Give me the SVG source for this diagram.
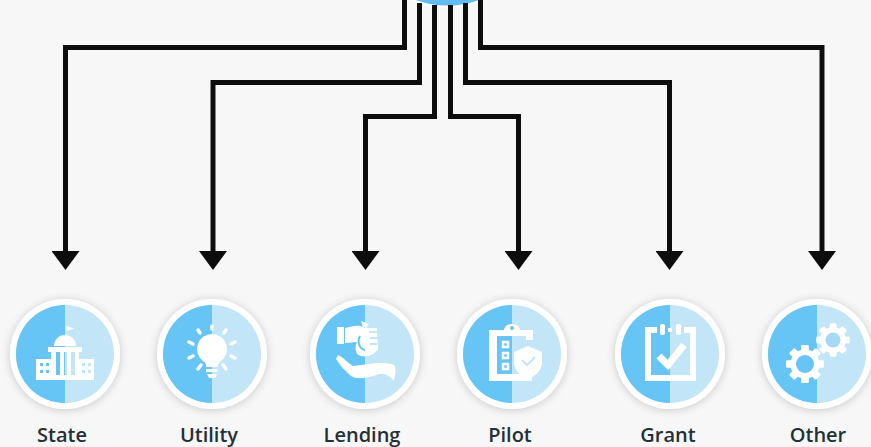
<svg xmlns="http://www.w3.org/2000/svg" width="871" height="447" viewBox="0 0 871 447">
<style>
.lbl{font-family:"Open Sans","Liberation Sans",sans-serif;font-size:20px;font-weight:600;fill:#243038;text-anchor:middle}
.wire{fill:none;stroke:#111;stroke-width:5}
.ring{fill:#fff;filter:url(#sh)}
.dark{fill:#66c5f4}
.light{fill:#c3e5f8}
.ic{fill:#fff}
.icl{fill:none;stroke:#fff;stroke-linecap:round}
</style>
<defs>
<filter id="sh" x="-30%" y="-30%" width="160%" height="160%"><feDropShadow dx="0" dy="1" stdDeviation="4" flood-color="#000" flood-opacity=".2"/></filter>
<filter id="soft" x="-5%" y="-5%" width="110%" height="110%"><feGaussianBlur stdDeviation=".45"/></filter>
<filter id="softall" filterUnits="userSpaceOnUse" x="0" y="0" width="871" height="447"><feGaussianBlur stdDeviation=".45"/></filter>
<marker id="arr" markerUnits="userSpaceOnUse" markerWidth="20" markerHeight="28" refX="0" refY="14" orient="auto" viewBox="0 0 20 28"><path d="M0 0L19 14 0 28Z" fill="#111"/></marker>
<g id="disc">
<circle class="ring" r="55"/>
<circle class="light" r="49"/>
<path class="dark" d="M0-49A49 49 0 0 0 0 49Z"/>
</g>
<g id="cog"><g class="ic"><circle r="17"/><rect x="-4.500" y="-22" width="9" height="44" rx="1.500"/><rect x="-4.500" y="-22" width="9" height="44" rx="1.500" transform="rotate(45)"/><rect x="-4.500" y="-22" width="9" height="44" rx="1.500" transform="rotate(90)"/><rect x="-4.500" y="-22" width="9" height="44" rx="1.500" transform="rotate(135)"/></g></g>
</defs>
<rect width="871" height="447" fill="#f7f7f7"/>
<g id="hub"><circle cx="447.500" cy="-90" r="98" fill="#fff" opacity=".7"/><circle cx="447.500" cy="-90" r="95.500" fill="#62bdee"/></g>
<g id="connectors" filter="url(#softall)">
<path class="wire" marker-end="url(#arr)" d="M404.500 0V47.500H65.500V251"/>
<path class="wire" marker-end="url(#arr)" d="M419.500 3V82.500H213V251"/>
<path class="wire" marker-end="url(#arr)" d="M434.500 5V116.500H365.500V251"/>
<path class="wire" marker-end="url(#arr)" d="M450.500 5V116.500H518.500V251"/>
<path class="wire" marker-end="url(#arr)" d="M465.500 3V82.500H669.500V251"/>
<path class="wire" marker-end="url(#arr)" d="M480.500 0V47.500H822V251"/>
</g>
<g id="state" transform="translate(65 354)">
<use href="#disc"/>
<g class="ic" filter="url(#soft)">
<path d="M-29 5H-14V26H-29Z M14 5H29V26H14Z"/>
<path d="M-17-7H17V-2H-17Z M-14-2H-9V21H-14Z M-5-2H-1V21H-5Z M2-2H6V21H2Z M10-2H14V21H10Z M-17 21H17V26H-17Z"/>
<path d="M-11-8A11 11 0 0 1 11-8Z"/>
<path d="M0-20H1.500V-28L9-25.500 1.500-23V-18H0Z"/>
</g>
<g fill="#66c5f4"><rect x="-25" y="9" width="3" height="3"/><rect x="-19" y="9" width="3" height="3"/><rect x="-25" y="16" width="3" height="3"/><rect x="-19" y="16" width="3" height="3"/></g>
<g fill="#c3e5f8"><rect x="17" y="9" width="3" height="3"/><rect x="23" y="9" width="3" height="3"/><rect x="17" y="16" width="3" height="3"/><rect x="23" y="16" width="3" height="3"/></g>
</g>
<g id="utility" transform="translate(212 354)">
<use href="#disc"/>
<g filter="url(#soft)">
<path class="ic" d="M0-20A15 15 0 0 1 9 7C6 9 6 11 6 13H-6C-6 11-6 9-9 7A15 15 0 0 1 0-20Z"/>
<path class="ic" d="M-6 15H6V18H-6Z M-5 20H5L3 24H-3Z"/>
<g class="icl" stroke-width="3.500"><path d="M0-28V-25"/><path d="M-14-24-12-21"/><path d="M14-24 12-21"/><path d="M-23-12-19-10"/><path d="M23-12 19-10"/><path d="M-23 4-19 2"/><path d="M23 4 19 2"/><path d="M-14 15-11 11"/><path d="M14 15 11 11"/></g>
</g>
</g>
<g id="lending" transform="translate(365 354)">
<use href="#disc"/>
<g class="ic" filter="url(#soft)">
<path d="M-28-27H-21V-10H-28Z"/>
<path d="M-20-26C-12-28-6-30 0-26L12-26 13-5C9 2-2 5-8 0-10-4-10-8-8-12L-20-11Z"/>
<path d="M-4-33 4-30 1-26-2-27Z"/>
<path d="M-27 1C-22 3-17 9-12 12L4 10C12 9 22 8 29 11 32 15 30 22 29 27 25 22 20 19 14 20 4 24-8 26-14 22-20 17-25 11-29 5Z"/>
</g>
<path d="M-5-18C-8-13-6-5 0-4" fill="none" stroke="#66c5f4" stroke-width="2"/>
<path d="M4-22H13M5-16H13M5-10H12" stroke="#c3e5f8" stroke-width="2"/>
</g>
<g id="pilot" transform="translate(512 354)">
<use href="#disc"/>
<g filter="url(#soft)">
<path class="ic" d="M-23-24H-8C-7-32 7-32 8-24H21V-14H14V-18H-15V20H20V27H-23Z"/>
<path class="ic" d="M16-8 30-2V8C30 16 24 22 16 25 8 22 2 16 2 8V-2Z"/>
<path d="M10 6 15 11 23 3" fill="none" stroke="#c3e5f8" stroke-width="2"/>
<g fill="none" stroke="#fff" stroke-width="2.500"><rect x="-9" y="-12" width="5" height="5"/><rect x="-9" y="-1" width="5" height="5"/><rect x="-9" y="10" width="5" height="5"/></g>
<circle cy="-26" r="2" fill="#66c5f4"/>
</g>
</g>
<g id="grant" transform="translate(670 354)">
<use href="#disc"/>
<g filter="url(#soft)">
<path d="M-22-24V24H23V-24" fill="none" stroke="#fff" stroke-width="6"/>
<path class="ic" d="M-25-27H-13V-21H-19V-20H-25Z M14-27H26V-20H20V-21H14Z"/>
<rect class="ic" x="-10" y="-30" width="5" height="11" rx="2"/><rect class="ic" x="-2" y="-26" width="4" height="4"/><rect class="ic" x="6" y="-30" width="5" height="11" rx="2"/>
<path d="M-11 2-2 11 14-9" fill="none" stroke="#fff" stroke-width="7"/>
</g>
</g>
<g id="other" transform="translate(817 354)">
<use href="#disc"/>
<g filter="url(#soft)">
<use href="#cog" transform="translate(-12 10) scale(.86)"/>
<circle cx="-12" cy="10" r="9" class="dark"/>
<use href="#cog" transform="translate(16 -14) scale(.76)"/>
<circle cx="16" cy="-14" r="7.500" fill="#a5d9f5"/>
</g>
</g>
<g id="labels">
<text class="lbl" x="62" y="442">State</text>
<text class="lbl" x="209" y="442">Utility</text>
<text class="lbl" x="362" y="442">Lending</text>
<text class="lbl" x="510" y="442">Pilot</text>
<text class="lbl" x="668" y="442">Grant</text>
<text class="lbl" x="818" y="442">Other</text>
</g>
</svg>
